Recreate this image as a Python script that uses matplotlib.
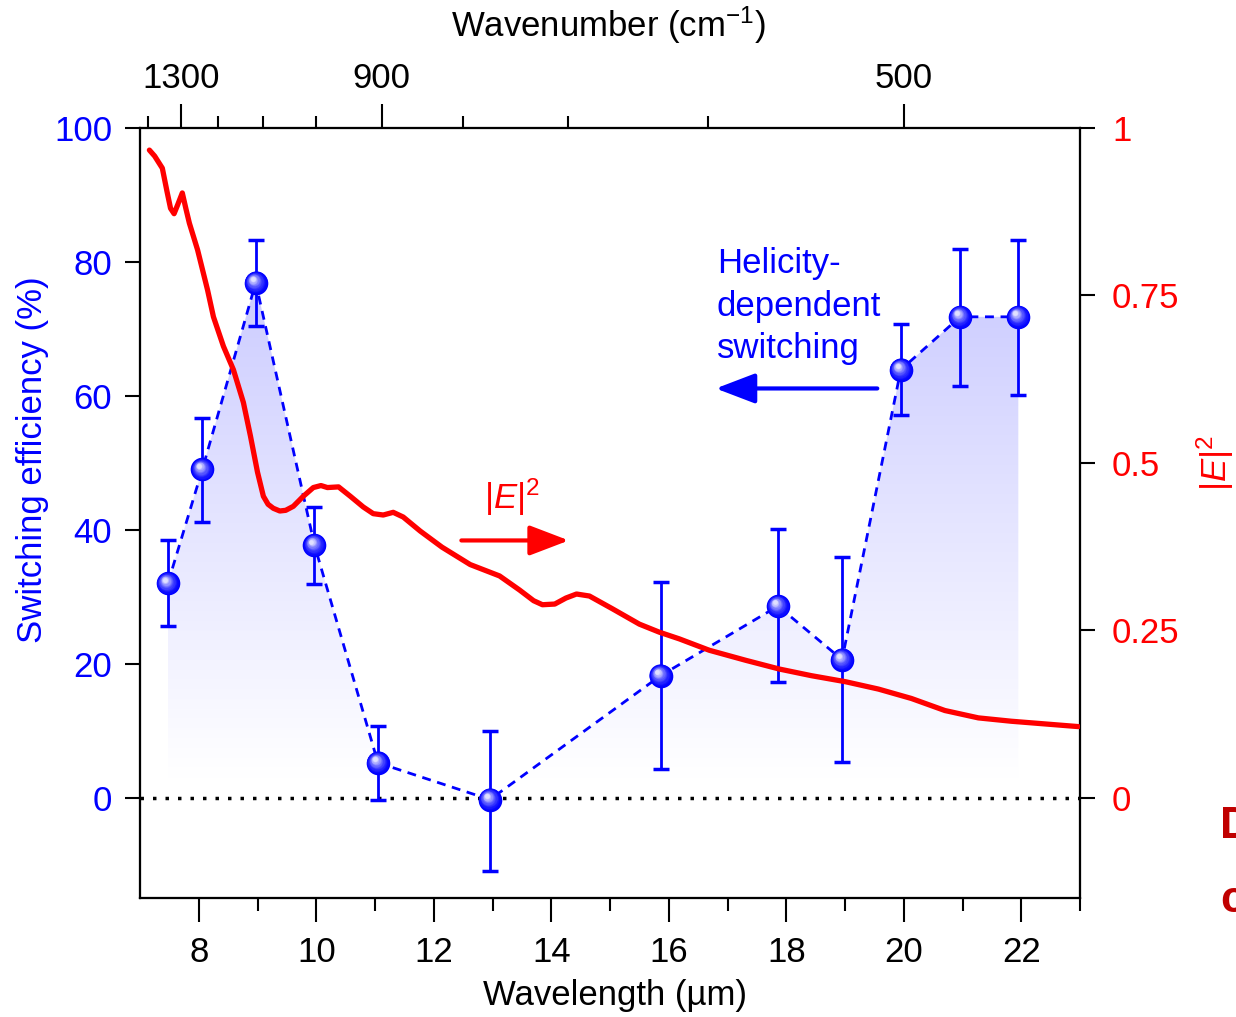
import numpy as np
import matplotlib
matplotlib.use("Agg")
import matplotlib.pyplot as plt
from matplotlib.patches import Polygon
import matplotlib.transforms as mtransforms

plt.rcParams['font.family'] = ['Liberation Sans', 'DejaVu Sans']
plt.rcParams['mathtext.fontset'] = 'custom'
plt.rcParams['mathtext.rm'] = 'Liberation Sans'
plt.rcParams['mathtext.it'] = 'Liberation Sans:italic'
plt.rcParams['mathtext.default'] = 'regular'

# ---------------- data ----------------
wavelength = [7.475, 8.06, 8.97, 9.97, 11.05, 12.955, 15.86, 17.86, 18.95, 19.95, 20.96, 21.95]
efficiency = [32.0, 49.0, 76.9, 37.7, 5.2, -0.3, 18.2, 28.6, 20.6, 63.9, 71.8, 71.8]
err_low = [6.4, 7.8, 6.5, 5.8, 5.6, 10.6, 14.0, 11.4, 15.3, 6.8, 10.4, 11.7]
err_high = [6.4, 7.7, 6.4, 5.7, 5.5, 10.3, 14.0, 11.5, 15.3, 6.8, 10.2, 11.5]

lam_E = [7.16, 7.25, 7.38, 7.46, 7.52, 7.58, 7.64, 7.72, 7.78, 7.84, 7.98, 8.15, 8.25,
         8.42, 8.59, 8.76, 8.88, 9.00, 9.10, 9.18, 9.27, 9.38, 9.48, 9.61, 9.78, 9.95,
         10.08, 10.19, 10.38, 10.58, 10.80, 10.97, 11.14, 11.31, 11.48, 11.77, 12.14,
         12.62, 13.12, 13.46, 13.70, 13.85, 14.06, 14.25, 14.43, 14.65, 15.04, 15.50,
         15.84, 16.18, 16.69, 17.31, 17.88, 18.43, 19.01, 19.57, 20.13, 20.70, 21.27,
         21.83, 22.40, 22.97]
E2 = [0.967, 0.958, 0.940, 0.905, 0.880, 0.872, 0.885, 0.903, 0.880, 0.858, 0.818,
      0.758, 0.718, 0.674, 0.639, 0.590, 0.540, 0.486, 0.450, 0.438, 0.432, 0.428,
      0.429, 0.435, 0.450, 0.463, 0.466, 0.463, 0.464, 0.450, 0.434, 0.424, 0.422,
      0.426, 0.419, 0.398, 0.374, 0.348, 0.331, 0.310, 0.294, 0.288, 0.289, 0.298,
      0.304, 0.301, 0.282, 0.259, 0.247, 0.237, 0.220, 0.205, 0.192, 0.182, 0.173,
      0.162, 0.148, 0.130, 0.119, 0.114, 0.110, 0.106]

x_ticks = [8, 10, 12, 14, 16, 18, 20, 22]
x_minor = [9, 11, 13, 15, 17, 19, 21, 23]
y_ticks = [0, 20, 40, 60, 80, 100]
y2_ticks = [0, 0.25, 0.5, 0.75, 1]
y2_labels = ['0', '0.25', '0.5', '0.75', '1']
wn_major = [1300, 900, 500]
wn_minor = [1400, 1200, 1100, 1000, 800, 700, 600]

BLUE = '#0000ff'
RED = '#ff0000'
FS = 25

fig = plt.figure(figsize=(12.36, 10.17), dpi=100)
ax = fig.add_axes([140/1236, 1-898/1017, 940/1236, 770/1017])
ax.set_xlim(7, 23)
ax.set_ylim(-15, 100)

# gradient shaded area under the dashed curve
xd = np.linspace(wavelength[0], wavelength[-1], 600)
yd = np.maximum(np.interp(xd, wavelength, efficiency), 3)
poly_xy = np.vstack([np.column_stack([xd, yd]), [[xd[-1], 3], [xd[0], 3]]])
poly = Polygon(poly_xy, closed=True, facecolor='none', edgecolor='none', transform=ax.transData)
ax.add_patch(poly)
yy = np.linspace(100, 0, 400)
a = np.clip((yy - 3) / 82.0 * 0.22, 0, 0.26)
grad = np.zeros((400, 2, 4))
grad[..., 0] = 1 - a[:, None]
grad[..., 1] = 1 - a[:, None]
grad[..., 2] = 1.0
grad[..., 3] = 1.0
im = ax.imshow(grad, extent=[xd[0], xd[-1], 0, 100], aspect='auto', origin='upper',
               interpolation='bilinear', zorder=1)
im.set_clip_path(poly)

# zero line
ax.axhline(0, color='black', lw=2.5, linestyle=(0, (1, 2.6)), zorder=2)

# dashed line + error bars
ax.plot(wavelength, efficiency, color=BLUE, lw=2, linestyle=(0, (3.2, 2.4)), zorder=3)
ax.errorbar(wavelength, efficiency, yerr=[err_low, err_high], fmt='none', ecolor=BLUE,
            elinewidth=2, capsize=5.5, capthick=2.5, zorder=4)

# |E|^2 curve (right-axis values scaled onto left axis: 1 -> 100)
ax.plot(lam_E, np.array(E2) * 100, color=RED, lw=3.8, solid_joinstyle='round',
        solid_capstyle='round', zorder=4.5)

# sphere-like markers
n = 14
for i in range(n):
    t = i / (n - 1)
    size = 17 * (1 - 0.8 * t)
    dx = -2.2 * t
    dy = 2.6 * t
    c = np.array([0.0, 0.0, 1.0]) * (1 - t ** 1.6) + np.array([0.88, 0.88, 1.0]) * (t ** 1.6)
    off = mtransforms.ScaledTranslation(dx / 72, dy / 72, fig.dpi_scale_trans)
    ax.plot(wavelength, efficiency, 'o', ms=size, color=c, mec='none',
            transform=ax.transData + off, zorder=5 + i * 0.01)

# right axis (|E|^2)
ax2 = ax.twinx()
ax2.set_ylim(-0.15, 1.0)
ax2.set_yticks(y2_ticks)
ax2.set_yticklabels(y2_labels)
ax2.tick_params(axis='y', direction='out', length=11, width=1.5, colors='black',
                labelcolor=RED, labelsize=FS, pad=12)

# top axis (wavenumber)
ax3 = ax.twiny()
ax3.set_xlim(7, 23)
ax3.set_xticks([1e4 / w for w in wn_major])
ax3.set_xticklabels([str(w) for w in wn_major])
ax3.set_xticks([1e4 / w for w in wn_minor], minor=True)
ax3.tick_params(axis='x', which='major', direction='out', length=17, width=1.5,
                labelsize=FS, pad=7)
ax3.tick_params(axis='x', which='minor', direction='out', length=8.5, width=1.5)

# main axis ticks
ax.set_xticks(x_ticks)
ax.set_xticks(x_minor, minor=True)
ax.set_yticks(y_ticks)
ax.tick_params(axis='x', which='major', direction='out', length=17, width=1.5,
               labelsize=FS, pad=10)
ax.tick_params(axis='x', which='minor', direction='out', length=9, width=1.5)
ax.tick_params(axis='y', direction='out', length=11, width=1.5, labelcolor=BLUE,
               labelsize=FS, pad=9)

for a_ in (ax, ax2, ax3):
    for s in a_.spines.values():
        s.set_linewidth(1.5)

ax.set_zorder(ax2.get_zorder() + 1)
ax.patch.set_visible(False)

# labels
fig.text(615/1236, 1-995/1017, 'Wavelength (µm)', ha='center', va='center', fontsize=FS)
fig.text(608/1236, 1-25/1017, 'Wavenumber (cm$^{\\mathregular{-1}}$)', ha='center',
         va='center', fontsize=FS)
fig.text(33/1236, 1-460/1017, 'Switching efficiency (%)', ha='center', va='center',
         rotation=90, fontsize=FS, color=BLUE)
fig.text(1215/1236, 1-463/1017, '|$\\mathit{E}$|$^{2}$', ha='center', va='center',
         rotation=90, fontsize=FS, color=RED)

# annotations
ax.text(16.82, 73.4, 'Helicity-\ndependent\nswitching', ha='left', va='center',
        fontsize=FS, color=BLUE, linespacing=1.38, zorder=7)
ax.annotate('', xy=(16.80, 61.1), xytext=(19.55, 61.1),
            arrowprops=dict(arrowstyle='-|>,head_length=1.1,head_width=0.42',
                            color=BLUE, lw=3, mutation_scale=22, shrinkA=0, shrinkB=0),
            zorder=7)
ax.text(13.33, 44.8, '|$\\mathit{E}$|$^{2}$', ha='center', va='center', fontsize=FS,
        color=RED, zorder=7)
ax.annotate('', xy=(14.30, 38.4), xytext=(12.47, 38.4),
            arrowprops=dict(arrowstyle='-|>,head_length=1.1,head_width=0.42',
                            color=RED, lw=3, mutation_scale=22, shrinkA=0, shrinkB=0),
            zorder=7)

# cut-off text from neighbouring panel (partially visible at right edge in original)
fig.text(1220/1236, 1-826/1017, 'D', ha='left', va='center', fontsize=32,
         fontweight='bold', color='#c00000')
fig.text(1220/1236, 1-900/1017, 'c', ha='left', va='center', fontsize=32,
         fontweight='bold', color='#c00000')

fig.savefig('out.png', dpi=100)
